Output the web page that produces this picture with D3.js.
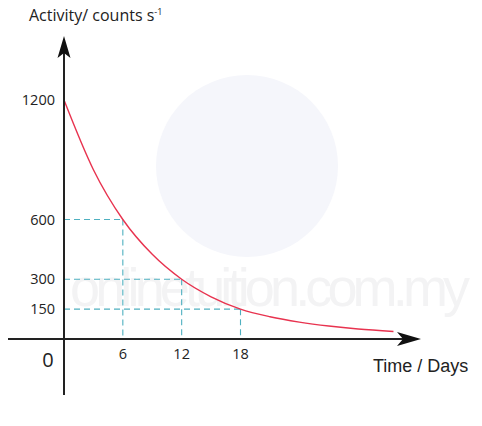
<!DOCTYPE html>
<html><head><meta charset="utf-8">
<script src="https://cdn.jsdelivr.net/npm/d3@7"></script>
<style>body{margin:0;background:#fff}svg{display:block}</style>
</head><body>
<svg id="c" width="482" height="426"></svg>
<script>
// Data
const days = [0, 3, 6, 9, 12, 15, 18, 21, 24, 27, 30, 33.6];
const activity = [1200, 850, 600, 425, 300, 212, 150, 112, 85, 65, 50, 38];
const markDays = [6, 12, 18];
const markValues = [600, 300, 150];
const yTickLabels = ["1200", "600", "300", "150"];
const yTickValues = [1200, 600, 300, 150];
const xTickLabels = ["6", "12", "18"];
const yTitle = "Activity/ counts s";
const xTitle = "Time / Days";
const watermark = "onlinetuition.com.my";

const svg = d3.select("#c");
const x = d3.scaleLinear().domain([0, 36]).range([64, 417]);
const y = d3.scaleLinear().domain([0, 1200]).range([339, 100]);

// watermark
svg.append("circle").attr("cx", 247).attr("cy", 166).attr("r", 91).attr("fill", "#f5f6fb");
svg.append("text").attr("x", 70).attr("y", 306)
  .attr("font-family", "Liberation Sans, Arial, sans-serif").attr("font-size", 54)
  .attr("fill", "#f3f3f4").attr("textLength", 400).text(watermark);

// dashed guides
const dash = svg.append("g").attr("stroke", "#4fb0c0").attr("stroke-width", 1.1)
  .attr("stroke-dasharray", "6,4").attr("fill", "none");
markDays.forEach((d, i) => {
  dash.append("line").attr("x1", x(0)).attr("x2", x(d)).attr("y1", y(markValues[i])).attr("y2", y(markValues[i]));
  dash.append("line").attr("x1", x(d)).attr("x2", x(d)).attr("y1", y(markValues[i])).attr("y2", y(0));
});

// curve
const pts = days.map((d, i) => [d, activity[i]]);
svg.append("path").datum(pts)
  .attr("d", d3.line().x(d => x(d[0])).y(d => y(d[1])).curve(d3.curveMonotoneX))
  .attr("fill", "none").attr("stroke", "#e8334f").attr("stroke-width", 1.4);

// axes
const ax = svg.append("g").attr("stroke", "#222").attr("stroke-width", 2);
ax.append("line").attr("x1", 8).attr("x2", 408).attr("y1", y(0)).attr("y2", y(0));
ax.append("line").attr("x1", x(0)).attr("x2", x(0)).attr("y1", 395).attr("y2", 50);
// arrowheads
const xa = 421, ya = y(0);
svg.append("path").attr("fill", "#111")
  .attr("d", `M${xa},${ya} L${xa - 24},${ya - 7} L${xa - 18},${ya} L${xa - 24},${ya + 7} Z`);
const xb = x(0), yb = 36;
svg.append("path").attr("fill", "#111")
  .attr("d", `M${xb},${yb} L${xb - 6.5},${yb + 22} L${xb},${yb + 17} L${xb + 6.5},${yb + 22} Z`);

// tick labels
const font = "Open Sans, Noto Sans, sans-serif";
svg.append("g").selectAll("text").data(yTickValues).join("text")
  .attr("x", 55).attr("y", d => y(d) + 5).attr("text-anchor", "end")
  .attr("font-family", font).attr("font-size", 14.5).attr("fill", "#222")
  .text((d, i) => yTickLabels[i]);
svg.append("g").selectAll("text").data(markDays).join("text")
  .attr("x", d => x(d)).attr("y", 359).attr("text-anchor", "middle")
  .attr("font-family", font).attr("font-size", 14.5).attr("fill", "#222")
  .text((d, i) => xTickLabels[i]);
svg.append("text").attr("x", 48).attr("y", 367).attr("text-anchor", "middle")
  .attr("font-family", font).attr("font-size", 20).attr("fill", "#222").text("0");

// titles
const t = svg.append("text").attr("x", 29).attr("y", 21)
  .attr("font-family", font).attr("font-size", 16).attr("fill", "#222");
t.append("tspan").text(yTitle);
t.append("tspan").attr("dy", -6).attr("font-size", 9).text("-1");
svg.append("text").attr("x", 373).attr("y", 372)
  .attr("font-family", "Liberation Sans, Arial, sans-serif").attr("font-size", 18)
  .attr("fill", "#222").text(xTitle);
</script>
</body></html>
